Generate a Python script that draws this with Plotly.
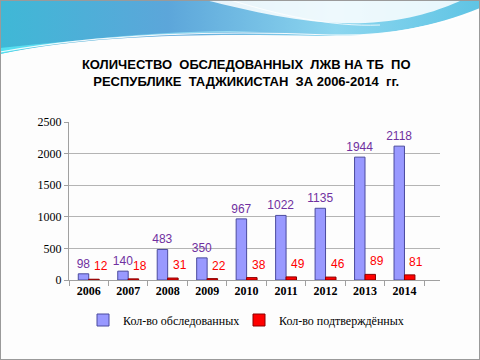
import base64
import plotly.graph_objects as go

years = ["2006", "2007", "2008", "2009", "2010", "2011", "2012", "2013", "2014"]
examined = [98, 140, 483, 350, 967, 1022, 1135, 1944, 2118]
confirmed = [12, 18, 31, 22, 38, 49, 46, 89, 81]
series_names = ["Кол-во обследованных", "Кол-во подтверждённых"]
title_text = "КОЛИЧЕСТВО  ОБСЛЕДОВАННЫХ  ЛЖВ НА ТБ  ПО<br>РЕСПУБЛИКЕ  ТАДЖИКИСТАН  ЗА 2006-2014  гг."

W, H = 480, 360
L, R, T, B = 69, 40, 122, 80
pw, ph = W - L - R, H - T - B

svg = f"""<svg xmlns='http://www.w3.org/2000/svg' width='{W}' height='{H}' viewBox='0 0 {W} {H}' preserveAspectRatio='none'>
<defs>
<linearGradient id='g1' x1='0' y1='0' x2='1' y2='0'>
<stop offset='0' stop-color='#3FB8D6'/>
<stop offset='0.35' stop-color='#5CA6DA'/>
<stop offset='0.7' stop-color='#8CD6EF'/>
<stop offset='1' stop-color='#5FC4E4'/>
</linearGradient>
<linearGradient id='g2' x1='0' y1='0' x2='1' y2='0'>
<stop offset='0' stop-color='#55E6F4'/>
<stop offset='0.5' stop-color='#7FD3EE'/>
<stop offset='1' stop-color='#A8E4F5'/>
</linearGradient>
</defs>
<rect x='0' y='0' width='{W}' height='{H}' fill='#FDFDFD'/>
<path d='M0,0 H480 V8 C430,28 380,37 320,36 C220,34 100,33 0,54 Z' fill='url(#g1)'/>
<path d='M0,54 C80,36 180,30 260,31 C180,33 90,38 0,48 Z' fill='url(#g2)' opacity='0.9'/>
<path d='M205,0 C255,12 305,25 365,23 C410,21 440,10 462,0 Z' fill='#FFFFFF' opacity='0.85'/>
<path d='M230,0 C280,15 330,27 380,25' stroke='#FFFFFF' stroke-width='1' fill='none' opacity='0.8'/>
<path d='M0,52 C100,34 220,30 330,35 C390,37 440,25 480,10' stroke='#FFFFFF' stroke-width='1.2' fill='none' opacity='0.9'/>
<rect x='0.5' y='0.5' width='{W-1}' height='{H-1}' fill='none' stroke='#9A9A9A' stroke-width='1'/>
</svg>"""
img_src = "data:image/svg+xml;base64," + base64.b64encode(svg.encode("utf-8")).decode("ascii")

label_font = "Liberation Sans, Arial"

fig = go.Figure()
fig.add_trace(go.Bar(
    x=years, y=examined, name=series_names[0], legend="legend",
    marker=dict(color="#9999FF", line=dict(color="#4B4B9E", width=1)),
    text=examined, textposition="outside", constraintext="none",
    textfont=dict(family=label_font, size=12, color="#7030A0"),
    cliponaxis=False,
))
fig.add_trace(go.Bar(
    x=years, y=confirmed, name=series_names[1], legend="legend2",
    marker=dict(color="#FF0000", line=dict(color="#8B0000", width=1)),
    cliponaxis=False,
))

annotations = [
    dict(x=i, y=v, xref="x", yref="y", text=str(v), showarrow=False,
         xshift=12, yshift=4, yanchor="bottom", xanchor="center",
         font=dict(family=label_font, size=12, color="#FF0000"))
    for i, v in enumerate(confirmed)
]

legend_common = dict(orientation="h", xanchor="left", y=(H - B - 320) / ph, yanchor="middle",
                     font=dict(family="Liberation Serif, Times New Roman", size=12, color="black"),
                     bgcolor="rgba(0,0,0,0)", itemwidth=30)

fig.update_layout(
    width=W, height=H,
    margin=dict(l=L, r=R, t=T, b=B),
    paper_bgcolor="white", plot_bgcolor="rgba(0,0,0,0)",
    barmode="group", bargap=0.47, bargroupgap=0.0,
    uniformtext=dict(mode=False),
    annotations=annotations,
    title=dict(text=title_text, x=0.513, xanchor="center", y=1 - 69 / H, yanchor="middle",
               yref="container",
               font=dict(family="Liberation Sans, Arial", size=13, color="black", weight="bold")),
    legend=dict(x=(83 - L) / pw, **legend_common),
    legend2=dict(x=(239 - L) / pw, **legend_common),
    showlegend=True,
    images=[dict(source=img_src, xref="paper", yref="paper",
                 x=-L / pw, y=(H - B) / ph, sizex=W / pw, sizey=H / ph,
                 xanchor="left", yanchor="top", sizing="stretch", layer="below")],
)
fig.update_xaxes(
    type="category", range=[-0.5, 8.9], showgrid=False, showline=True,
    linecolor="#A0A0A0", linewidth=1,
    ticks="outside", tickson="boundaries", ticklen=5, tickcolor="#A0A0A0",
    tickfont=dict(family="Liberation Serif, Times New Roman", size=12, color="black", weight="bold"),
)
fig.update_yaxes(
    range=[0, 2500], tickvals=[0, 500, 1000, 1500, 2000, 2500],
    showgrid=True, gridcolor="#B4B4B4", gridwidth=1,
    showline=True, linecolor="#A0A0A0", linewidth=1, zeroline=False,
    ticks="outside", ticklen=4, tickcolor="#A0A0A0",
    tickfont=dict(family="Liberation Serif, Times New Roman", size=12, color="black"),
)

fig.write_html("out.html", config={"displayModeBar": False},
               post_script="document.body.style.margin='0';document.body.style.overflow='hidden';")
